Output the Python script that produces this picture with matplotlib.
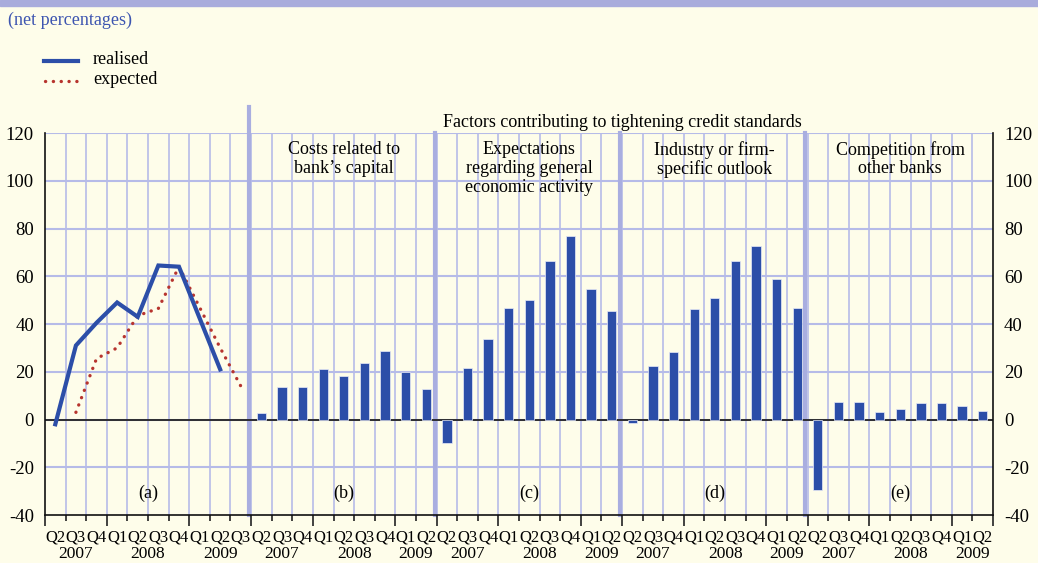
import matplotlib.pyplot as plt
from matplotlib.transforms import blended_transform_factory

# colours
BG = "#FEFDEA"
BLUE = "#2C4EA8"
RED = "#B7342E"
GRID = "#B6BBE8"
SEP = "#A9AEE0"

# panel (a): realised / expected lines, Q2 2007 .. Q3 2009
quarters_a = ["Q2", "Q3", "Q4", "Q1", "Q2", "Q3", "Q4", "Q1", "Q2", "Q3"]
years_a = ["2007", "2007", "2007", "2008", "2008", "2008", "2008", "2009", "2009", "2009"]
realised = [-2, 31, 40.5, 49, 43, 64.5, 64, 42.5, 21, None]
expected = [None, 3, 25.5, 30, 43.5, 46.5, 64, 47, 30, 14]

# panels (b)-(e): bars, Q2 2007 .. Q2 2009
quarters_b = ["Q2", "Q3", "Q4", "Q1", "Q2", "Q3", "Q4", "Q1", "Q2"]
years_b = ["2007", "2007", "2007", "2008", "2008", "2008", "2008", "2009", "2009"]
costs_capital = [2.8, 13.5, 13.8, 21, 18.4, 23.5, 28.5, 20, 12.6]
expectations_activity = [-10, 21.4, 33.7, 46.5, 50, 66.3, 76.7, 54.8, 45.3]
industry_outlook = [-1.5, 22.4, 28.4, 46.2, 51, 66.5, 72.8, 58.7, 46.7]
competition = [-29.5, 7.3, 7.3, 3, 4.3, 7, 6.8, 5.5, 3.5]

panel_titles = [
    "Costs related to\nbank\u2019s capital",
    "Expectations\nregarding general\neconomic activity",
    "Industry or firm-\nspecific outlook",
    "Competition from\nother banks",
]
panel_letters = ["(a)", "(b)", "(c)", "(d)", "(e)"]
bar_series = [costs_capital, expectations_activity, industry_outlook, competition]

plt.rcParams["font.family"] = ["Liberation Serif", "DejaVu Serif"]
plt.rcParams["font.size"] = 13
plt.rcParams["axes.unicode_minus"] = False

fig = plt.figure(figsize=(10.38, 5.63), dpi=100, facecolor=BG)
ax = fig.add_axes([45 / 1038, 1 - 515 / 563, 948 / 1038, 382 / 563])
ax.set_facecolor(BG)

n_a = len(quarters_a)
n_b = len(quarters_b)
total = n_a + 4 * n_b
ax.set_xlim(0, total)
ax.set_ylim(-40, 120)

# grid
for i in range(1, total):
    ax.axvline(i, color=GRID, lw=1.2, zorder=0)
for v in range(-20, 121, 20):
    ax.axhline(v, color=GRID, lw=1.5, zorder=0)

# panel separators
starts = [0, n_a] + [n_a + k * n_b for k in range(1, 4)]
for k, s in enumerate(starts[1:]):
    ax.plot([s - 0.1, s - 0.1], [-40, 131 if k == 0 else 120], color=SEP,
            lw=3, zorder=1, clip_on=False)

ax.axhline(0, color="#222222", lw=1.3, zorder=2)

# panel (a) lines
xa = [i + 0.5 for i in range(n_a)]
rx = [x for x, v in zip(xa, realised) if v is not None]
ry = [v for v in realised if v is not None]
ex = [x for x, v in zip(xa, expected) if v is not None]
ey = [v for v in expected if v is not None]
ax.plot(rx, ry, color=BLUE, lw=3, zorder=4, solid_joinstyle="miter")
ax.plot(ex, ey, color=RED, lw=2.4, ls=(0, (0.05, 2.3)),
        dash_capstyle="round", zorder=3)

# bars
for k, vals in enumerate(bar_series):
    s = n_a + k * n_b
    xb = [s + i + 0.5 for i in range(n_b)]
    ax.bar(xb, vals, width=0.45, color=BLUE, edgecolor="#E8EAF8",
           linewidth=0.5, zorder=3)

# panel titles and letters
centers = [(starts[k] + (starts[k + 1] if k + 1 < len(starts) else total)) / 2
           for k in range(len(starts))]
for k, title in enumerate(panel_titles):
    ax.text(centers[k + 1], 116.8, title, ha="center", va="top",
            linespacing=1.15, zorder=5)
for c, lab in zip(centers, panel_letters):
    ax.text(c, -31, lab, ha="center", va="center", zorder=5)

ax.text((n_a + total) / 2, 124.2, "Factors contributing to tightening credit standards",
        ha="center", va="center", clip_on=False)

# spines and y ticks
for side in ["left", "right", "bottom"]:
    ax.spines[side].set_color("#111111")
    ax.spines[side].set_linewidth(1.2)
ax.spines["top"].set_visible(False)
ax.set_yticks(range(-40, 121, 20))
ax.tick_params(axis="y", length=0, pad=8, labelsize=13.5,
               left=True, right=True, labelleft=True, labelright=True)

# x ticks: boundaries, longer at year starts
all_years = years_a + years_b * 4
all_quarters = quarters_a + quarters_b * 4
major = [0]
minor = []
for i in range(1, total):
    if i in starts or all_quarters[i] == "Q1":
        major.append(i)
    else:
        minor.append(i)
major.append(total)
ax.set_xticks(major)
ax.set_xticks(minor, minor=True)
ax.set_xticklabels([])
ax.tick_params(axis="x", which="major", length=8, width=1.2, color="#222222")
ax.tick_params(axis="x", which="minor", length=4, width=1.2, color="#222222")

tr = blended_transform_factory(ax.transData, ax.transAxes)
for i, q in enumerate(all_quarters):
    ax.text(i + 0.5, -0.058, q, transform=tr, ha="center", va="center",
            fontsize=12)

# year labels centred over their quarters in each panel
bounds = starts + [total]
for k in range(len(starts)):
    a, b = bounds[k], bounds[k + 1]
    seen = []
    for i in range(a, b):
        if all_years[i] not in seen:
            seen.append(all_years[i])
    for y in seen:
        idx = [i for i in range(a, b) if all_years[i] == y]
        ax.text((idx[0] + idx[-1] + 1) / 2, -0.103, y, transform=tr,
                ha="center", va="center", fontsize=12.5)

# header: top band, unit note, legend
fig.patches.append(plt.Rectangle((0, 1 - 6 / 563), 1, 6 / 563,
                                 transform=fig.transFigure, color="#A9ACDC"))
fig.text(8 / 1038, 1 - 20 / 563, "(net percentages)", color="#3D55B0",
         ha="left", va="center", fontsize=13)
fig.lines.append(plt.Line2D([44 / 1038, 78 / 1038], [1 - 61 / 563, 1 - 61 / 563],
                            transform=fig.transFigure, color=BLUE, lw=3))
fig.lines.append(plt.Line2D([45 / 1038, 79 / 1038], [1 - 81 / 563, 1 - 81 / 563],
                            transform=fig.transFigure, color=RED, lw=2.4,
                            ls=(0, (0.05, 2.3)), dash_capstyle="round"))
fig.text(93 / 1038, 1 - 60 / 563, "realised", ha="left", va="center", fontsize=13)
fig.text(93 / 1038, 1 - 80 / 563, "expected", ha="left", va="center", fontsize=13)

fig.savefig("out.png", dpi=100, facecolor=BG)
